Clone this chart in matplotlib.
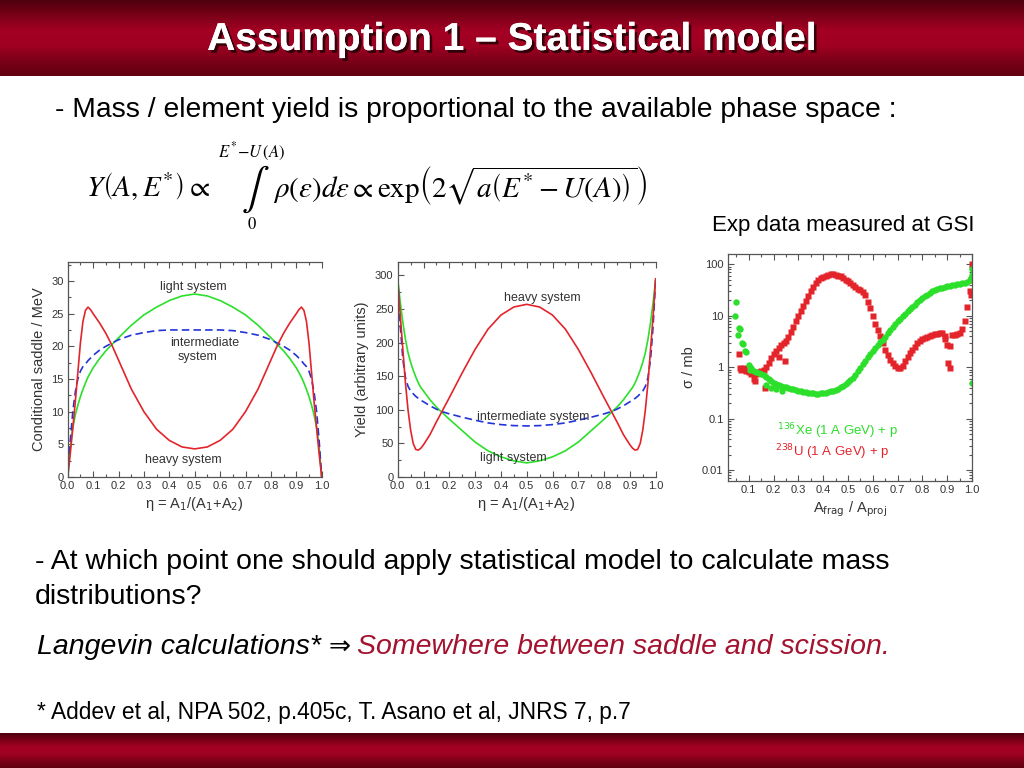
import numpy as np
import matplotlib
matplotlib.use('Agg')
import matplotlib.pyplot as plt
import matplotlib.patheffects as pe
from matplotlib.colors import LinearSegmentedColormap
from matplotlib.ticker import MultipleLocator, FixedLocator, FixedFormatter, LogLocator, NullFormatter

# ---------------- data ----------------
eta = [0.0, 0.01, 0.02, 0.03, 0.04, 0.05, 0.06, 0.07, 0.08, 0.09, 0.10,
       0.125, 0.15, 0.175, 0.20, 0.25, 0.30, 0.35, 0.40, 0.45, 0.50,
       0.55, 0.60, 0.65, 0.70, 0.75, 0.80, 0.825, 0.85, 0.875, 0.90,
       0.91, 0.92, 0.93, 0.94, 0.95, 0.96, 0.97, 0.98, 0.99, 1.0]

# conditional saddle (MeV)
sad_light = [0, 4.5, 7.5, 9.5, 11.0, 12.3, 13.4, 14.4, 15.3, 16.0, 16.7,
             18.1, 19.3, 20.3, 21.3, 23.2, 24.8, 26.0, 27.0, 27.7, 28.0,
             27.7, 27.0, 26.0, 24.8, 23.2, 21.3, 20.3, 19.3, 18.1, 16.7,
             16.0, 15.3, 14.4, 13.4, 12.3, 11.0, 9.5, 7.5, 4.5, 0]
sad_inter = [0, 5.5, 10.0, 13.0, 15.0, 16.2, 16.9, 17.3, 17.8, 18.2, 18.6,
             19.4, 20.0, 20.5, 21.0, 21.7, 22.1, 22.4, 22.5, 22.5, 22.5,
             22.5, 22.5, 22.4, 22.1, 21.7, 21.0, 20.5, 20.0, 19.4, 18.6,
             18.2, 17.8, 17.3, 16.9, 16.2, 15.0, 13.0, 10.0, 5.5, 0]
sad_heavy = [0, 3.5, 7.5, 11.5, 16.0, 20.5, 23.8, 25.5, 26.0, 25.6, 25.0,
             23.6, 22.0, 20.1, 17.9, 13.5, 10.0, 7.3, 5.6, 4.6, 4.3,
             4.6, 5.6, 7.3, 10.0, 13.5, 17.9, 20.1, 22.0, 23.6, 25.0,
             25.6, 26.0, 25.5, 23.8, 20.5, 16.0, 11.5, 7.5, 3.5, 0]

# yield (arbitrary units)
yld_light = [295, 260, 230, 205, 185, 171, 159, 149, 140, 133, 128,
             115, 104, 95, 86, 69, 52, 39, 30, 24, 21,
             24, 30, 39, 52, 69, 86, 95, 104, 115, 128,
             133, 140, 149, 159, 171, 185, 205, 230, 260, 295]
yld_inter = [295, 225, 175, 148, 135, 128, 124, 120, 117, 114, 112,
             106, 101, 97, 94, 89, 84.5, 80.5, 78, 76.5, 76,
             76.5, 78, 80.5, 84.5, 89, 94, 97, 101, 106, 112,
             114, 117, 120, 124, 128, 135, 148, 175, 225, 295]
yld_heavy = [295, 240, 190, 140, 100, 70, 50, 41, 40, 43, 48,
             63, 82, 100, 118, 155, 190, 220, 241, 253, 257,
             253, 241, 220, 190, 155, 118, 100, 82, 63, 48,
             43, 40, 41, 50, 70, 100, 140, 190, 240, 295]

# GSI data: 136Xe (1 A GeV) + p
xe_x = [0.045, 0.05, 0.062, 0.066, 0.058, 0.072, 0.078, 0.085, 0.09, 0.10, 0.105, 0.11,
        0.12, 0.13, 0.14, 0.15, 0.16, 0.17, 0.18, 0.19, 0.20, 0.21, 0.22, 0.23, 0.24,
        0.25, 0.26, 0.27, 0.28, 0.29, 0.30, 0.31, 0.32, 0.33, 0.34, 0.35, 0.36, 0.37,
        0.38, 0.39, 0.40, 0.41, 0.42, 0.43, 0.44, 0.45, 0.46, 0.47, 0.48, 0.49, 0.50,
        0.51, 0.52, 0.53, 0.54, 0.55, 0.56, 0.57, 0.58, 0.59, 0.60, 0.61, 0.62, 0.63,
        0.64, 0.65, 0.66, 0.67, 0.68, 0.69, 0.70, 0.71, 0.72, 0.73, 0.74, 0.75, 0.76,
        0.77, 0.78, 0.79, 0.80, 0.81, 0.82, 0.83, 0.84, 0.85, 0.86, 0.87, 0.88, 0.89,
        0.90, 0.91, 0.92, 0.93, 0.94, 0.95, 0.96, 0.97, 0.98, 0.99,
        0.17, 0.19, 0.21, 0.235, 0.995, 1.0, 1.0, 1.0]
xe_y = [10, 19, 5.8, 5.5, 4.2, 3.0, 2.8, 2.1, 2.0, 1.1, 0.9, 0.95,
        0.85, 0.81, 0.77, 0.73, 0.70, 0.64, 0.59, 0.54, 0.50, 0.48, 0.46, 0.44, 0.42,
        0.41, 0.40, 0.38, 0.37, 0.36, 0.35, 0.34, 0.33, 0.33, 0.32, 0.31, 0.31, 0.30,
        0.30, 0.31, 0.31, 0.32, 0.33, 0.34, 0.35, 0.36, 0.38, 0.41, 0.44, 0.48, 0.52,
        0.56, 0.63, 0.72, 0.83, 0.97, 1.15, 1.35, 1.6, 1.85, 2.1, 2.4, 2.7, 3.05,
        3.4, 3.95, 4.6, 5.3, 6.0, 6.9, 7.8, 8.8, 9.9, 11.0, 12.3, 13.7, 15.1,
        16.5, 18.3, 20.2, 22.0, 24.0, 26.0, 28.5, 30, 31.5, 33, 34.5, 35.5, 37,
        38, 39, 40, 40.5, 41, 42, 43, 44, 46, 50,
        0.45, 0.40, 0.38, 0.34, 55, 62, 80, 0.5]

# GSI data: 238U (1 A GeV) + p
u_x = [0.06, 0.065, 0.07, 0.08, 0.09, 0.10, 0.11, 0.12, 0.125, 0.13, 0.165, 0.22, 0.245,
       0.14, 0.15, 0.16, 0.17, 0.18, 0.19, 0.20, 0.21, 0.22, 0.23, 0.24, 0.25, 0.26,
       0.27, 0.28, 0.29, 0.30, 0.31, 0.32, 0.33, 0.34, 0.35, 0.36, 0.37, 0.38, 0.39,
       0.40, 0.41, 0.42, 0.43, 0.44, 0.45, 0.46, 0.47, 0.48, 0.49, 0.50, 0.51, 0.52,
       0.53, 0.54, 0.55, 0.56, 0.57, 0.58, 0.59, 0.60, 0.61, 0.62, 0.63, 0.64, 0.65,
       0.66, 0.67, 0.68, 0.69, 0.70, 0.71, 0.72, 0.73, 0.74, 0.75, 0.76, 0.77, 0.78,
       0.79, 0.80, 0.81, 0.82, 0.83, 0.84, 0.85, 0.86, 0.87, 0.88, 0.89, 0.90, 0.91,
       0.92, 0.93, 0.94, 0.95, 0.96, 0.97, 0.98, 0.99,
       0.905, 0.91, 0.89, 0.995, 1.0, 0.995]
u_y = [1.8, 0.95, 0.9, 0.95, 0.85, 0.8, 0.75, 0.6, 0.55, 0.75, 0.4, 1.6, 1.3,
       0.80, 0.85, 0.90, 1.0, 1.2, 1.5, 1.8, 2.1, 2.4, 2.7, 3.0, 3.3, 3.8,
       4.8, 6.2, 7.8, 9.8, 12.5, 15.5, 19.5, 24, 30, 37, 43, 49, 54,
       58, 61, 63, 64, 64, 63, 61, 59, 55, 51, 47, 44, 40,
       37, 34, 32, 29, 25, 19, 14, 10, 7.0, 5.2, 4.0, 3.0, 2.2,
       1.7, 1.4, 1.2, 1.05, 0.95, 0.95, 1.05, 1.3, 1.6, 1.9, 2.2, 2.5, 2.9,
       3.2, 3.5, 3.7, 3.9, 4.1, 4.3, 4.4, 4.5, 4.7, 4.6, 4.0, 2.7, 2.6,
       4.2, 4.3, 4.4, 4.6, 5.5, 8.0, 15, 30,
       1.2, 0.95, 3.6, 50, 100, 25]

eta_ticks = [0.0, 0.1, 0.2, 0.3, 0.4, 0.5, 0.6, 0.7, 0.8, 0.9, 1.0]
sad_ticks = [0, 5, 10, 15, 20, 25, 30]
yld_ticks = [0, 50, 100, 150, 200, 250, 300]
frag_ticks = [0.1, 0.2, 0.3, 0.4, 0.5, 0.6, 0.7, 0.8, 0.9, 1.0]
sig_ticks = [0.01, 0.1, 1, 10, 100]
sig_labels = ['0.01', '0.1', '1', '10', '100']

GREEN = '#2bdf2b'
RED = '#e3242b'
BLUE = '#2233d8'
DARKRED = '#a3122f'

plt.rcParams['font.family'] = ['Liberation Sans', 'DejaVu Sans']

fig = plt.figure(figsize=(10.24, 7.68), dpi=100)


def fx(x):
    return x / 1024


def fy(y):
    return 1 - y / 768


# red gradient bands at top and bottom
band = LinearSegmentedColormap.from_list(
    'band', ['#4e000e', '#7a0018', '#a40024', '#a00022', '#7c0019', '#62000f'])
grad = np.linspace(0, 1, 128).reshape(-1, 1)
hdr = fig.add_axes([0, fy(76), 1, 76 / 768])
hdr.imshow(grad, cmap=band, aspect='auto')
hdr.axis('off')
ftr = fig.add_axes([0, 0, 1, 35 / 768])
ftr.imshow(grad, cmap=band, aspect='auto')
ftr.axis('off')

fig.text(fx(512), fy(40), 'Assumption 1 \u2013 Statistical model', ha='center', va='center',
         color='white', fontsize=28, fontweight='bold',
         family=['Liberation Sans Narrow', 'Liberation Sans'],
         path_effects=[pe.withSimplePatchShadow(offset=(2, -2), shadow_rgbFace='#1a0004', alpha=0.8),
                       pe.Normal()])

fig.text(fx(55), fy(110), '- Mass / element yield is proportional to the available phase space :',
         fontsize=20.3, va='center')

# formula
fig.text(fx(86), fy(186), r'$Y\left(A,E^{*}\right)\propto$', fontsize=21, va='center',
         math_fontfamily='stix')
fig.text(fx(241), fy(189), r'$\int$', fontsize=30, va='center', math_fontfamily='stix')
fig.text(fx(218), fy(152), r'$E^{*}\!-\!U\,(A)$', fontsize=12, va='center', math_fontfamily='stix')
fig.text(fx(247), fy(224), r'$0$', fontsize=12, va='center', math_fontfamily='stix')
fig.text(fx(273), fy(186),
         r'$\rho\left(\varepsilon\right)d\varepsilon\propto\mathrm{exp}\left(2\sqrt{a\left(E^{*}-U\left(A\right)\right)}\right)$',
         fontsize=21, va='center', math_fontfamily='stix')

fig.text(fx(712), fy(225), 'Exp data measured at GSI', fontsize=16, va='center')


def frame(ax, right=False):
    ax.tick_params(which='both', direction='in', top=True, right=right,
                   labelsize=8, labelcolor='#333333', color='#555555', width=0.8, pad=3)
    ax.tick_params(which='major', length=4)
    ax.tick_params(which='minor', length=2.5)
    for s in ax.spines.values():
        s.set_color('#555555')
        s.set_linewidth(0.9)
    if not right:
        ax.spines['right'].set_visible(False)


lab = dict(fontsize=10.5, color='#333333')
ann = dict(fontsize=9, color='#333333', ha='center', va='center')

# panel 1: conditional saddle
ax1 = fig.add_axes([fx(67.7), fy(477), 254 / 1024, 215 / 768])
ax1.plot(eta, sad_light, color=GREEN, lw=1.2)
ax1.plot(eta, sad_inter, color=BLUE, lw=1.2, dashes=(4.5, 2.5))
ax1.plot(eta, sad_heavy, color=RED, lw=1.2)
ax1.set_xlim(0, 1)
ax1.set_ylim(0, 32.9)
ax1.xaxis.set_major_locator(FixedLocator(eta_ticks))
ax1.xaxis.set_major_formatter(FixedFormatter(['%.1f' % v for v in eta_ticks]))
ax1.xaxis.set_minor_locator(MultipleLocator(0.05))
ax1.yaxis.set_major_locator(FixedLocator(sad_ticks))
ax1.yaxis.set_minor_locator(MultipleLocator(2.5))
frame(ax1)
ax1.set_ylabel('Conditional saddle / MeV', labelpad=4, **lab)
ax1.set_xlabel('\u03b7 = A$_1$/(A$_1$+A$_2$)', labelpad=3, **lab)
ax1.text(0.493, 29.0, 'light system', **ann)
ax1.text(0.54, 20.5, 'intermediate', **ann)
ax1.text(0.513, 18.4, 'system', **ann)
ax1.text(0.455, 2.6, 'heavy system', **ann)

# panel 2: yield
ax2 = fig.add_axes([fx(397.7), fy(477), 258 / 1024, 215 / 768])
ax2.plot(eta, yld_light, color=GREEN, lw=1.2)
ax2.plot(eta, yld_inter, color=BLUE, lw=1.2, dashes=(4.5, 2.5))
ax2.plot(eta, yld_heavy, color=RED, lw=1.2)
ax2.set_xlim(0, 1)
ax2.set_ylim(0, 320)
ax2.xaxis.set_major_locator(FixedLocator(eta_ticks))
ax2.xaxis.set_major_formatter(FixedFormatter(['%.1f' % v for v in eta_ticks]))
ax2.xaxis.set_minor_locator(MultipleLocator(0.05))
ax2.yaxis.set_major_locator(FixedLocator(yld_ticks))
ax2.yaxis.set_minor_locator(MultipleLocator(25))
frame(ax2)
ax2.set_ylabel('Yield (arbitrary units)', labelpad=4, **lab)
ax2.set_xlabel('\u03b7 = A$_1$/(A$_1$+A$_2$)', labelpad=3, **lab)
ax2.text(0.559, 266, 'heavy system', **ann)
ax2.text(0.524, 90, 'intermediate system', **ann)
ax2.text(0.447, 29, 'light system', **ann)

# panel 3: GSI data
ax3 = fig.add_axes([fx(727.7), fy(480.7), 244.3 / 1024, 226.7 / 768])
ax3.plot(u_x, u_y, 's', color=RED, ms=4.2, mec='none')
ax3.plot(xe_x, xe_y, 'o', color=GREEN, ms=4.6, mec='none')
ax3.set_yscale('log')
ax3.set_xlim(0.015, 1.0)
ax3.set_ylim(0.0062, 160)
ax3.xaxis.set_major_locator(FixedLocator(frag_ticks))
ax3.xaxis.set_major_formatter(FixedFormatter(['%.1f' % v for v in frag_ticks]))
ax3.xaxis.set_minor_locator(MultipleLocator(0.05))
ax3.yaxis.set_major_locator(FixedLocator(sig_ticks))
ax3.yaxis.set_major_formatter(FixedFormatter(sig_labels))
ax3.yaxis.set_minor_locator(LogLocator(base=10, subs=np.arange(2, 10)))
ax3.yaxis.set_minor_formatter(NullFormatter())
frame(ax3, right=True)
ax3.set_ylabel('\u03c3 / mb', labelpad=4, **lab)
ax3.set_xlabel(r'A$_{\mathrm{frag}}$ / A$_{\mathrm{proj}}$', labelpad=3, **lab)
ax3.text(0.215, 0.056, r'$^{136}$Xe (1 A GeV) + p', color=GREEN, fontsize=9.5, va='center')
ax3.text(0.205, 0.022, r'$^{238}$U (1 A GeV) + p', color=RED, fontsize=9.5, va='center')

# lower text
fig.text(fx(35), fy(562), '- At which point one should apply statistical model to calculate mass',
         fontsize=20.5, va='center')
fig.text(fx(35), fy(597), 'distributions?', fontsize=20.5, va='center')

r = fig.canvas.get_renderer()
t1 = fig.text(fx(37), fy(647), 'Langevin calculations*', fontsize=20.5, style='italic', va='center')
x1 = t1.get_window_extent(r).x1
t2 = fig.text((x1 + 7) / 1024, fy(647), '\u21d2', fontsize=19, family='DejaVu Sans', va='center')
x2 = t2.get_window_extent(r).x1
fig.text((x2 + 7) / 1024, fy(647), 'Somewhere between saddle and scission.', fontsize=20.5,
         style='italic', color=DARKRED, va='center')

fig.text(fx(37), fy(713), '* Addev et al, NPA 502, p.405c, T. Asano et al, JNRS 7, p.7',
         fontsize=16.4, va='center')

fig.savefig('out.png', dpi=100)
